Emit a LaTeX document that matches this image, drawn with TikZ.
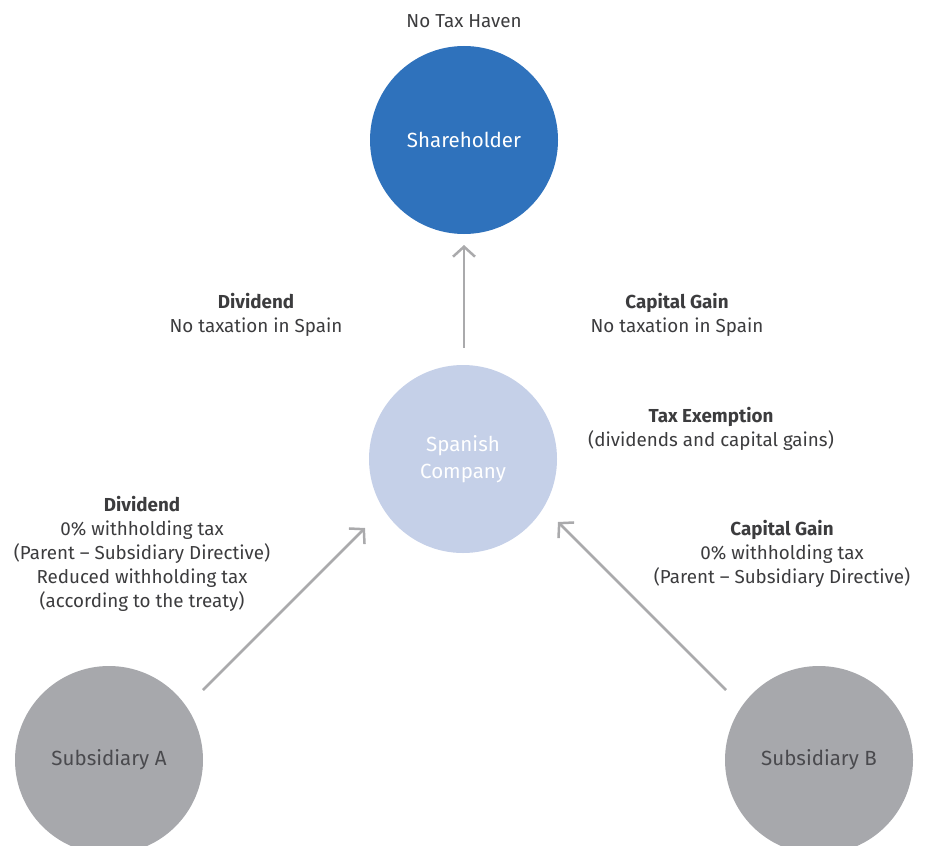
\documentclass[tikz,border=0pt]{standalone}
\usepackage{fontspec}
\setmainfont{Fira Sans}
\usepackage{tikz}
\usetikzlibrary{calc,arrows.meta}
\usepackage{xcolor}
\definecolor{holderblue}{rgb}{0.184,0.447,0.737}
\definecolor{spainblue}{rgb}{0.773,0.816,0.910}
\definecolor{subgray}{rgb}{0.655,0.659,0.675}
\definecolor{subtext}{rgb}{0.290,0.290,0.306}
\definecolor{labeltext}{rgb}{0.235,0.235,0.243}
\definecolor{arrowgray}{rgb}{0.667,0.667,0.675}
\newcommand{\entity}[5]{\node[circle,minimum size=188pt,inner sep=0pt,fill=#3,text=#4,align=center,font=\fontsize{20.5}{27}\selectfont] (#1) at (#2) {#5};}
\newcommand{\note}[3]{\node[text=labeltext,align=center,anchor=north,font=\fontsize{18.8}{24}\selectfont] (#1) at (#2) {#3};}
\tikzset{flow/.style={draw=arrowgray,line width=2.5pt,-{Straight Barb[length=10pt,width=22pt,line width=2.5pt]}}}

\begin{document}
\begin{tikzpicture}[x=1pt,y=-1pt]
        \useasboundingbox (0,0) rectangle (925,845);

        \entity{holder}{464,140}{holderblue}{white}{Shareholder}
        \entity{spanish}{463,459}{spainblue}{white}{Spanish\\Company}
        \entity{subA}{109,760}{subgray}{subtext}{Subsidiary A}
        \entity{subB}{819,760}{subgray}{subtext}{Subsidiary B}

        \draw[flow] ($(spanish)+(1,-111)$) -- ($(holder)+(0,105)$);
        \draw[flow] ($(subA)+(94,-70)$) -- ($(spanish)+(-98,69)$);
        \draw[flow] ($(subB)+(-93,-70)$) -- ($(spanish)+(95,63)$);

        \note{haven}{464,11}{No Tax Haven}
        \note{divtop}{256,290}{\textbf{Dividend}\\No taxation in Spain}
        \note{gaintop}{677,290}{\textbf{Capital Gain}\\No taxation in Spain}
        \note{exempt}{711,404}{\textbf{Tax Exemption}\\(dividends and capital gains)}
        \note{divsub}{142,493}{\textbf{Dividend}\\0\% withholding tax\\(Parent -- Subsidiary Directive)\\Reduced withholding tax\\(according to the treaty)}
        \note{gainsub}{782,517}{\textbf{Capital Gain}\\0\% withholding tax\\(Parent -- Subsidiary Directive)}

    \end{tikzpicture}
\end{document}
